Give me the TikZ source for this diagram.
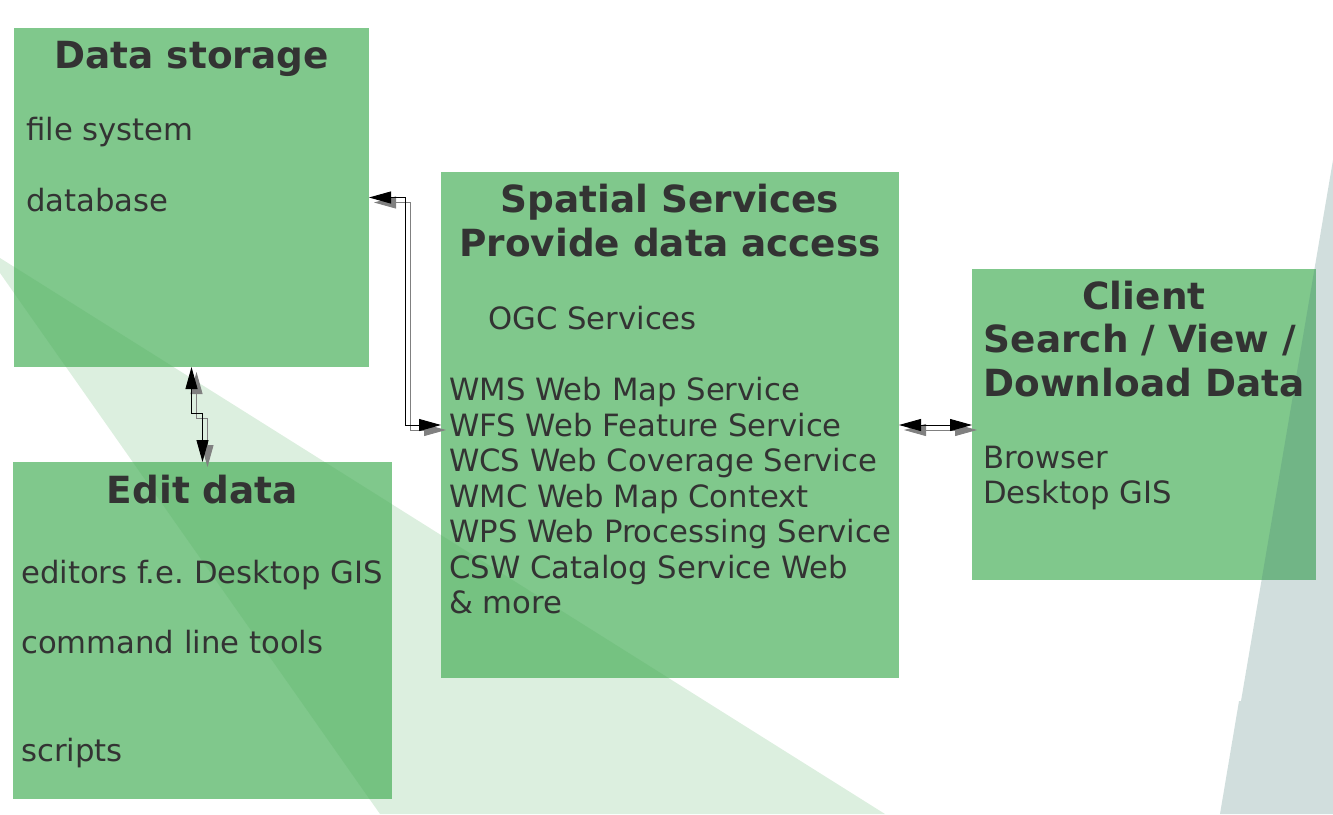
\documentclass[tikz,border=0pt]{standalone}
\usepackage{fontspec}
\setmainfont{DejaVu Sans}
\usetikzlibrary{arrows.meta}
\frenchspacing
\definecolor{boxgreen}{RGB}{128,200,140}
\definecolor{wedgegreen}{RGB}{70,170,85}
\definecolor{wedgegray}{RGB}{70,125,120}
\definecolor{ink}{RGB}{51,51,51}
\begin{document}
\begin{tikzpicture}[x=1pt,y=-1pt,
  box/.style={fill=boxgreen, draw=none, inner sep=0pt, outer sep=0pt, anchor=north west},
  ttl/.style={font=\fontsize{37.4}{44}\selectfont\bfseries, text=ink, inner sep=0pt, anchor=base},
  body/.style={font=\fontsize{30.7}{35.5}\selectfont, text=ink, inner sep=0pt, anchor=base west},
  tips/.style={{Triangle[length=22pt,width=12pt]}-{Triangle[length=22pt,width=12pt]}},
  link/.style={tips, line width=0.9pt, draw=black},
  linkshadow/.style={tips, line width=0.9pt, draw=black!50, transform canvas={xshift=5pt,yshift=-5pt}}
]
\useasboundingbox (0,0) rectangle (1333,814);

% the four blocks
\node[box, minimum width=355pt, minimum height=339pt] (ds) at (14,28) {};
\node[box, minimum width=379pt, minimum height=337pt] (ed) at (13,462) {};
\node[box, minimum width=458pt, minimum height=506pt] (ss) at (441,172) {};
\node[box, minimum width=344pt, minimum height=311pt] (cl) at (972,269) {};

% translucent background wedges
\fill[wedgegreen, opacity=0.19] (0,258) -- (885,814) -- (380,814) -- (0,273) -- cycle;
\fill[wedgegray, opacity=0.25] (1333,160) -- (1333,814) -- (1220,814) -- (1239,701) -- (1241,701) -- cycle;

% Data storage
\node[ttl] (dsT) at (191.5,68.3) {Data storage};
\node[body] (ds1) at (26,140.7) {file system};
\node[body] (ds2) at (26,211.7) {database};

% Edit data
\node[ttl] (edT) at (202.5,503) {Edit data};
\node[body] (ed1) at (21,583.5) {editors f.e. Desktop GIS};
\node[body] (ed2) at (21,653.5) {command line tools};
\node[body] (ed3) at (21,761.5) {scripts};

% Spatial services
\node[ttl] (ssT1) at (670,212) {Spatial Services};
\node[ttl] (ssT2) at (670,256.7) {Provide data access};
\node[body] (ssO) at (488,329) {OGC Services};
\foreach \txt [count=\i] in {WMS Web Map Service, WFS Web Feature Service,
    WCS Web Coverage Service, WMC Web Map Context, WPS Web Processing Service,
    CSW Catalog Service Web, \& more}
  \node[body] (ss\i) at (449,{365+35.5*\i}) {\txt};

% Client
\node[ttl] (clT1) at (1144,309.3) {Client};
\node[ttl] (clT2) at (1140,352.7) {Search / View /};
\node[ttl] (clT3) at (1144,396.7) {Download Data};
\node[body] (cl1) at (983,468.3) {Browser};
\node[body] (cl2) at (983,503.5) {Desktop GIS};

% connectors with drop shadows
\draw[linkshadow] (ds.east) -- ++(36,0) |- (ss.west);
\draw[link] (ds.east) -- ++(36,0) |- (ss.west);
\draw[linkshadow] (ds.south) -- ++(0,46) -| (ed.north);
\draw[link] (ds.south) -- ++(0,46) -| (ed.north);
\draw[linkshadow] (ss.east) -- (ss.east -| cl.west);
\draw[link] (ss.east) -- (ss.east -| cl.west);
\end{tikzpicture}
\end{document}
